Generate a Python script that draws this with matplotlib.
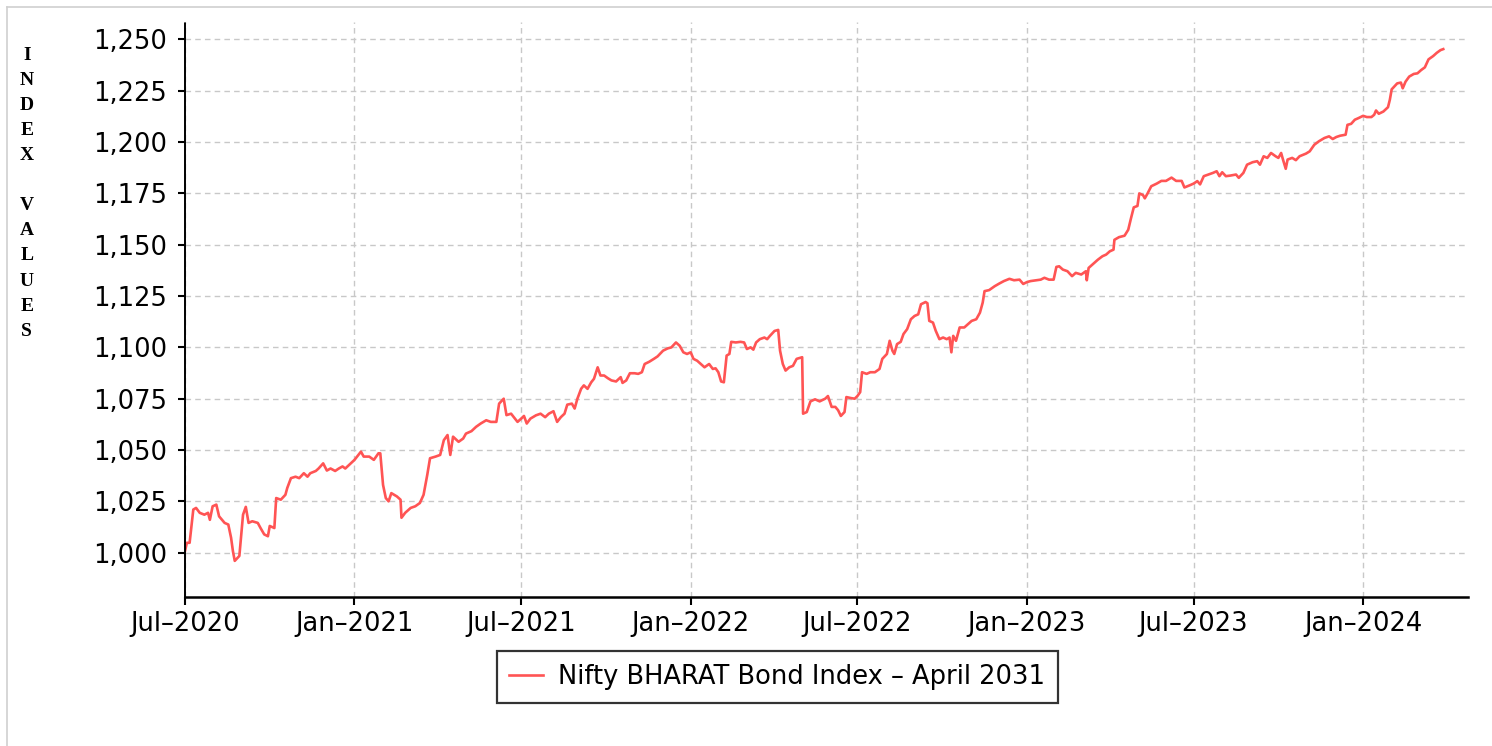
import numpy as np
import pandas as pd
import matplotlib
matplotlib.use("Agg")
from matplotlib import pyplot as plt
import matplotlib.dates as mdates
from matplotlib.ticker import FuncFormatter, MultipleLocator
from matplotlib.lines import Line2D

# Jul 2020 - Jun 2021
dates_a = ["2020-07-01", "2020-07-03", "2020-07-06", "2020-07-10", "2020-07-13", "2020-07-17",
           "2020-07-22", "2020-07-26", "2020-07-28", "2020-07-31", "2020-08-04", "2020-08-07",
           "2020-08-13", "2020-08-17", "2020-08-20", "2020-08-22", "2020-08-24", "2020-08-29",
           "2020-09-02", "2020-09-05", "2020-09-08", "2020-09-12", "2020-09-18", "2020-09-21",
           "2020-09-25", "2020-09-29", "2020-10-01", "2020-10-06", "2020-10-08", "2020-10-13",
           "2020-10-18", "2020-10-20", "2020-10-24", "2020-10-29", "2020-11-02", "2020-11-07",
           "2020-11-11", "2020-11-14", "2020-11-20", "2020-11-23", "2020-11-28", "2020-12-02",
           "2020-12-06", "2020-12-11", "2020-12-15", "2020-12-19", "2020-12-22", "2020-12-28",
           "2021-01-01", "2021-01-08", "2021-01-11", "2021-01-17", "2021-01-22", "2021-01-27",
           "2021-01-29", "2021-02-01", "2021-02-04", "2021-02-07", "2021-02-10", "2021-02-16",
           "2021-02-20", "2021-02-21", "2021-02-25", "2021-03-03", "2021-03-08", "2021-03-13",
           "2021-03-17", "2021-03-21", "2021-03-24", "2021-03-30", "2021-04-04", "2021-04-08",
           "2021-04-12", "2021-04-15", "2021-04-18", "2021-04-24", "2021-04-29", "2021-05-02",
           "2021-05-08", "2021-05-13", "2021-05-18", "2021-05-24", "2021-05-29", "2021-06-04",
           "2021-06-07", "2021-06-12", "2021-06-15", "2021-06-20", "2021-06-27"]
vals_a = [1000.8, 1004.8, 1004.8, 1021.0, 1021.8, 1019.4,
          1018.5, 1019.4, 1016.0, 1022.6, 1023.4, 1017.7,
          1014.5, 1013.7, 1007.3, 1000.8, 996.0, 998.4,
          1018.5, 1022.3, 1014.5, 1015.3, 1014.5, 1012.0,
          1008.9, 1008.0, 1013.0, 1012.0, 1026.6, 1025.8,
          1028.2, 1031.5, 1036.3, 1037.0, 1036.3, 1038.7,
          1037.0, 1038.7, 1039.8, 1041.0, 1043.5, 1040.0,
          1041.0, 1039.8, 1041.0, 1042.0, 1041.0, 1043.5,
          1045.2, 1049.2, 1046.8, 1046.8, 1045.2, 1048.4,
          1048.4, 1033.0, 1026.6, 1025.0, 1029.0, 1027.4,
          1025.8, 1017.0, 1019.4, 1021.8, 1022.6, 1024.2,
          1028.2, 1037.9, 1046.0, 1046.8, 1047.6, 1054.8,
          1057.3, 1047.6, 1056.5, 1054.0, 1055.6, 1058.0,
          1059.2, 1061.3, 1062.9, 1064.5, 1063.7, 1063.7,
          1072.6, 1075.0, 1067.0, 1067.7, 1063.7]

# Jul 2021 - Jun 2022
dates_b = ["2021-07-01", "2021-07-04", "2021-07-07", "2021-07-11", "2021-07-17", "2021-07-22",
           "2021-07-27", "2021-07-31", "2021-08-05", "2021-08-09", "2021-08-13", "2021-08-17",
           "2021-08-20", "2021-08-25", "2021-08-28", "2021-08-31", "2021-09-04", "2021-09-07",
           "2021-09-11", "2021-09-15", "2021-09-18", "2021-09-22", "2021-09-25", "2021-09-29",
           "2021-10-03", "2021-10-07", "2021-10-12", "2021-10-17", "2021-10-19", "2021-10-23",
           "2021-10-27", "2021-11-01", "2021-11-05", "2021-11-09", "2021-11-12", "2021-11-17",
           "2021-11-22", "2021-11-26", "2021-12-02", "2021-12-07", "2021-12-11", "2021-12-16",
           "2021-12-20", "2021-12-24", "2021-12-28", "2022-01-01", "2022-01-04", "2022-01-08",
           "2022-01-12", "2022-01-16", "2022-01-21", "2022-01-25", "2022-01-28", "2022-01-31",
           "2022-02-03", "2022-02-06", "2022-02-09", "2022-02-12", "2022-02-14", "2022-02-19",
           "2022-02-24", "2022-02-28", "2022-03-03", "2022-03-07", "2022-03-10", "2022-03-13",
           "2022-03-17", "2022-03-22", "2022-03-25", "2022-03-28", "2022-04-02", "2022-04-06",
           "2022-04-08", "2022-04-11", "2022-04-14", "2022-04-18", "2022-04-22", "2022-04-26",
           "2022-05-02", "2022-05-03", "2022-05-07", "2022-05-11", "2022-05-16", "2022-05-21",
           "2022-05-27", "2022-05-30", "2022-06-03", "2022-06-07", "2022-06-10", "2022-06-13",
           "2022-06-17", "2022-06-19", "2022-06-24", "2022-06-28"]
vals_b = [1065.3, 1066.6, 1062.9, 1065.3, 1066.9, 1067.7,
          1066.0, 1067.7, 1068.9, 1063.7, 1066.0, 1067.7,
          1072.1, 1072.6, 1070.2, 1075.0, 1079.8, 1081.5,
          1079.8, 1083.0, 1084.7, 1090.3, 1086.3, 1086.3,
          1085.0, 1083.9, 1083.4, 1085.5, 1082.7, 1083.9,
          1087.4, 1087.4, 1087.1, 1087.9, 1091.9, 1093.0,
          1094.4, 1095.6, 1098.4, 1099.5, 1100.0, 1102.4,
          1100.8, 1097.6, 1096.8, 1097.6, 1094.4, 1093.5,
          1091.9, 1090.3, 1091.9, 1089.5, 1089.8, 1087.9,
          1083.4, 1083.0, 1096.0, 1096.8, 1102.7, 1102.4,
          1102.7, 1102.4, 1099.2, 1100.0, 1098.9, 1102.4,
          1104.0, 1104.8, 1104.0, 1105.6, 1108.0, 1108.5,
          1098.4, 1091.9, 1088.7, 1090.3, 1091.0, 1094.4,
          1095.2, 1067.7, 1068.5, 1073.7, 1074.7, 1073.7,
          1075.0, 1076.3, 1071.0, 1071.0, 1069.4, 1066.6,
          1068.5, 1075.8, 1075.3, 1075.0]

# Jul 2022 - Jun 2023
dates_c = ["2022-07-01", "2022-07-04", "2022-07-06", "2022-07-11", "2022-07-15", "2022-07-20",
           "2022-07-25", "2022-07-28", "2022-08-02", "2022-08-05", "2022-08-08", "2022-08-10",
           "2022-08-13", "2022-08-17", "2022-08-20", "2022-08-24", "2022-08-28", "2022-09-01",
           "2022-09-05", "2022-09-08", "2022-09-13", "2022-09-15", "2022-09-17", "2022-09-21",
           "2022-09-24", "2022-09-28", "2022-10-02", "2022-10-06", "2022-10-09", "2022-10-11",
           "2022-10-13", "2022-10-16", "2022-10-20", "2022-10-25", "2022-10-29", "2022-11-02",
           "2022-11-07", "2022-11-11", "2022-11-14", "2022-11-16", "2022-11-21", "2022-11-27",
           "2022-12-02", "2022-12-07", "2022-12-13", "2022-12-18", "2022-12-24", "2022-12-28",
           "2023-01-01", "2023-01-05", "2023-01-11", "2023-01-16", "2023-01-20", "2023-01-25",
           "2023-01-30", "2023-02-02", "2023-02-05", "2023-02-09", "2023-02-14", "2023-02-19",
           "2023-02-23", "2023-03-01", "2023-03-06", "2023-03-07", "2023-03-09", "2023-03-13",
           "2023-03-19", "2023-03-24", "2023-03-28", "2023-04-01", "2023-04-05", "2023-04-06",
           "2023-04-11", "2023-04-17", "2023-04-21", "2023-04-24", "2023-04-27", "2023-05-01",
           "2023-05-03", "2023-05-07", "2023-05-09", "2023-05-12", "2023-05-16", "2023-05-22",
           "2023-05-27", "2023-06-01", "2023-06-07", "2023-06-12", "2023-06-18", "2023-06-21",
           "2023-06-27"]
vals_c = [1076.3, 1078.2, 1087.9, 1087.1, 1087.9, 1087.9,
          1089.5, 1094.4, 1096.8, 1103.2, 1098.4, 1096.8,
          1101.6, 1102.7, 1106.5, 1108.9, 1113.7, 1115.3,
          1116.1, 1121.0, 1122.1, 1121.5, 1112.9, 1112.1,
          1108.1, 1104.0, 1104.8, 1104.0, 1104.8, 1097.6,
          1105.6, 1103.2, 1109.7, 1109.7, 1111.3, 1112.9,
          1113.7, 1116.9, 1121.8, 1127.4, 1127.9, 1129.8,
          1131.1, 1132.3, 1133.4, 1132.7, 1133.0, 1130.9,
          1131.8, 1132.3, 1132.7, 1133.0, 1133.9, 1133.0,
          1133.0, 1139.2, 1139.5, 1137.9, 1137.1, 1134.7,
          1136.3, 1135.5, 1137.1, 1132.7, 1138.7, 1140.3,
          1142.7, 1144.4, 1145.2, 1146.8, 1147.6, 1152.4,
          1153.7, 1154.4, 1157.3, 1162.9, 1168.2, 1168.9,
          1175.0, 1174.2, 1172.6, 1175.0, 1178.5, 1179.8,
          1181.1, 1181.1, 1182.7, 1181.1, 1181.1, 1177.9,
          1179.0]

# Jul 2023 - Mar 2024
dates_d = ["2023-07-01", "2023-07-05", "2023-07-08", "2023-07-12", "2023-07-17", "2023-07-22",
           "2023-07-26", "2023-07-29", "2023-08-01", "2023-08-05", "2023-08-10", "2023-08-16",
           "2023-08-19", "2023-08-24", "2023-08-28", "2023-09-03", "2023-09-08", "2023-09-11",
           "2023-09-15", "2023-09-19", "2023-09-23", "2023-09-28", "2023-10-01", "2023-10-04",
           "2023-10-06", "2023-10-09", "2023-10-11", "2023-10-16", "2023-10-20", "2023-10-24",
           "2023-10-31", "2023-11-04", "2023-11-09", "2023-11-14", "2023-11-20", "2023-11-25",
           "2023-11-29", "2023-12-03", "2023-12-07", "2023-12-13", "2023-12-15", "2023-12-19",
           "2023-12-23", "2023-12-27", "2024-01-01", "2024-01-05", "2024-01-10", "2024-01-13",
           "2024-01-15", "2024-01-18", "2024-01-23", "2024-01-28", "2024-01-30", "2024-02-01",
           "2024-02-07", "2024-02-11", "2024-02-13", "2024-02-16", "2024-02-20", "2024-02-25",
           "2024-02-29", "2024-03-04", "2024-03-08", "2024-03-12", "2024-03-17", "2024-03-21",
           "2024-03-25", "2024-03-28"]
vals_d = [1179.8, 1181.0, 1179.4, 1183.4, 1184.2, 1185.0,
          1185.8, 1183.4, 1185.3, 1183.4, 1183.7, 1184.2,
          1182.6, 1185.0, 1189.0, 1190.2, 1190.7, 1189.0,
          1193.1, 1192.3, 1194.7, 1193.1, 1192.3, 1194.7,
          1191.5, 1187.0, 1191.5, 1192.3, 1191.2, 1193.1,
          1194.4, 1195.5, 1198.7, 1200.4, 1202.0, 1202.8,
          1201.5, 1202.5, 1203.1, 1203.6, 1208.4, 1208.9,
          1210.9, 1211.7, 1212.8, 1212.2, 1212.2, 1213.3,
          1215.4, 1213.8, 1214.9, 1217.0, 1220.6, 1225.7,
          1228.6, 1229.0, 1226.2, 1229.4, 1231.9, 1233.2,
          1233.5, 1235.1, 1236.4, 1240.3, 1241.9, 1243.5,
          1244.8, 1245.3]

series_name = "Nifty BHARAT Bond Index \u2013 April 2031"
ylabel_letters = "I\nN\nD\nE\nX\n\nV\nA\nL\nU\nE\nS"

dates = pd.to_datetime(dates_a + dates_b + dates_c + dates_d)
values = np.array(vals_a + vals_b + vals_c + vals_d)

fig = plt.figure(figsize=(14.92, 7.46), dpi=100)
ax = fig.add_axes([0.124, 0.2, 0.86, 0.7705])

ax.plot(dates, values, color="#ff5454", lw=1.9, label=series_name)

ax.set_xlim(pd.Timestamp("2020-07-01"), pd.Timestamp("2024-04-24"))
ax.set_ylim(978.5, 1258.5)

ax.xaxis.set_major_locator(mdates.MonthLocator(bymonth=[1, 7]))
ax.xaxis.set_major_formatter(mdates.DateFormatter("%b\u2013%Y"))
ax.yaxis.set_major_locator(MultipleLocator(25))
ax.yaxis.set_major_formatter(FuncFormatter(lambda v, p: f"{v:,.0f}"))

ax.grid(True, color="#c8c8c8", linestyle=(0, (4, 3)), linewidth=1.0)
ax.set_axisbelow(True)

for s in ["top", "right"]:
    ax.spines[s].set_visible(False)
ax.spines["bottom"].set_linewidth(1.8)
ax.spines["left"].set_linewidth(1.4)
ax.spines["left"].set_linestyle((0, (3, 1)))

ax.tick_params(axis="x", labelsize=18.5, length=6, width=1.5, pad=4)
ax.tick_params(axis="y", labelsize=18.5, length=5, width=1.5, pad=8)

fig.text(0.018, 0.937, ylabel_letters, ha="center", va="top",
         family="Liberation Serif", weight="bold", fontsize=14, linespacing=1.62)

leg = fig.legend(loc="center", bbox_to_anchor=(0.521, 0.0925), fontsize=18.5,
                 frameon=True, fancybox=False, handlelength=1.3, borderpad=0.5,
                 handletextpad=0.6)
leg.get_frame().set_edgecolor("black")
leg.get_frame().set_linewidth(1.6)

# page frame lines
fig.add_artist(Line2D([0.0047, 1], [0.9906, 0.9906], color="#d0d0d0", lw=1.2, transform=fig.transFigure))
fig.add_artist(Line2D([0.0047, 0.0047], [0, 0.9906], color="#d0d0d0", lw=1.2, transform=fig.transFigure))

fig.savefig("out.png", dpi=100)
